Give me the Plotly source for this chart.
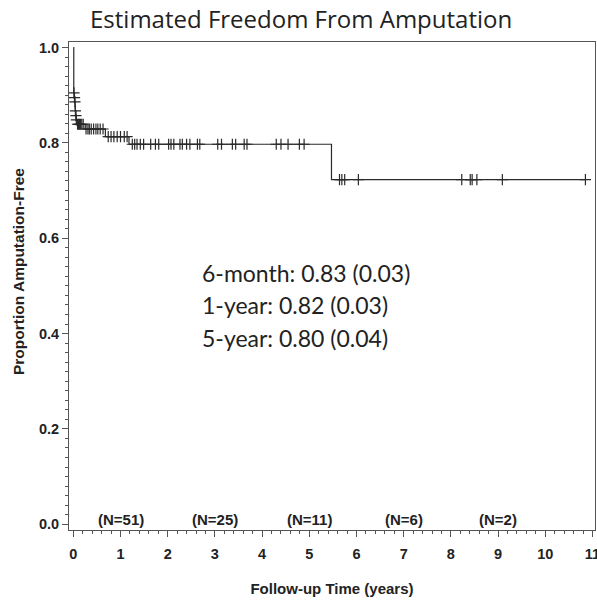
import numpy as np
import plotly.graph_objects as go

# Kaplan-Meier step curve (time in years, survival)
step_times = [0.0, 0.01, 0.02, 0.03, 0.04, 0.05, 0.06, 0.07, 0.25, 0.68, 1.18, 5.47, 10.85]
step_surv = [1.0, 0.905, 0.895, 0.886, 0.867, 0.857, 0.848, 0.839, 0.829, 0.813, 0.797, 0.723, 0.723]

# Censored observation times
censor_times = [0.015, 0.025, 0.035, 0.045, 0.055, 0.065,
                0.09, 0.11, 0.13, 0.15, 0.18, 0.21,
                0.27, 0.31, 0.34, 0.38, 0.43, 0.48, 0.52, 0.57, 0.63,
                0.74, 0.80, 0.86, 0.93, 1.0, 1.08, 1.14,
                1.25, 1.30, 1.35, 1.42, 1.49, 1.64, 1.74, 1.81, 2.02, 2.07, 2.13,
                2.26, 2.31, 2.40, 2.47, 2.63, 2.68, 3.06, 3.14, 3.37, 3.44, 3.62, 3.68,
                4.30, 4.40, 4.55, 4.79, 4.89,
                5.64, 5.69, 5.75, 6.04, 8.23, 8.41, 8.45, 8.55, 9.09, 10.85]

# Numbers at risk
risk_times = [1, 3, 5, 7, 9]
risk_labels = ["(N=51)", "(N=25)", "(N=11)", "(N=6)", "(N=2)"]

summary_lines = ["6-month: 0.83 (0.03)", "1-year: 0.82 (0.03)", "5-year: 0.80 (0.04)"]

x_ticks = list(range(0, 12))
y_ticks = [0.0, 0.2, 0.4, 0.6, 0.8, 1.0]

# survival at each censor time (step lookup)
idx = np.searchsorted(np.array(step_times), np.array(censor_times), side="right") - 1
censor_surv = [step_surv[i] for i in idx]

line_col = "#2a2a2a"
axis_col = "#555"

fig = go.Figure()
fig.add_trace(go.Scatter(x=step_times, y=step_surv, mode="lines",
                         line=dict(color=line_col, width=1.2, shape="hv"),
                         showlegend=False, hoverinfo="skip"))
fig.add_trace(go.Scatter(x=censor_times, y=censor_surv, mode="markers",
                         marker=dict(symbol="cross-thin-open", size=8, color=line_col,
                                     line=dict(color=line_col, width=1.2)),
                         showlegend=False, hoverinfo="skip"))

annotations = []
for t, lab in zip(risk_times, risk_labels):
    annotations.append(dict(x=t, y=0.009, xref="x", yref="y", text="<b>" + lab + "</b>",
                            showarrow=False, xanchor="center", yanchor="middle",
                            font=dict(family="Liberation Sans", size=15, color="#222")))
for i, s in enumerate(summary_lines):
    annotations.append(dict(x=2.68, y=0.527 - i * 0.068, xref="x", yref="y", text=s,
                            showarrow=False, xanchor="left", yanchor="middle",
                            font=dict(family="Lato", size=23, color="#222")))
annotations.append(dict(x=(301 - 69) / 526, y=(600 - 70 - 18.5) / 488, xref="paper", yref="paper",
                        text="Estimated Freedom From Amputation", showarrow=False,
                        xanchor="center", yanchor="middle",
                        font=dict(family="Open Sans", size=24, color="#222")))
annotations.append(dict(x=(18 - 69) / 526, y=(530 - 272) / 488, xref="paper", yref="paper",
                        text="<b>Proportion Amputation-Free</b>", showarrow=False, textangle=-90,
                        xanchor="center", yanchor="middle",
                        font=dict(family="Liberation Sans", size=15.5, color="#222")))

bold = lambda s: "<b>" + s + "</b>"

fig.update_layout(
    width=597, height=600,
    margin=dict(l=69, r=2, t=42, b=70),
    paper_bgcolor="white", plot_bgcolor="white",
    annotations=annotations,
    xaxis=dict(range=[-0.091, 11.053], tickvals=x_ticks,
               ticktext=[bold(str(v)) for v in x_ticks], automargin=False,
               ticklabeloverflow="allow",
               ticks="outside", ticklen=6, tickcolor=axis_col, showgrid=False, zeroline=False,
               showline=True, linecolor=axis_col, linewidth=1, mirror=True,
               minor=dict(dtick=0.2, ticks="outside", ticklen=3, tickcolor=axis_col),
               tickfont=dict(family="Liberation Sans", size=14.5, color="#222"),
               ticklabelstandoff=5,
               title=dict(text=bold("Follow-up Time (years)"), standoff=22,
                          font=dict(family="Liberation Sans", size=15, color="#222"))),
    yaxis=dict(range=[-0.012, 1.0115], tickvals=y_ticks,
               ticktext=[bold(f"{v:.1f}") for v in y_ticks], automargin=False,
               ticklabeloverflow="allow",
               ticks="outside", ticklen=6, tickcolor=axis_col, showgrid=False, zeroline=False,
               showline=True, linecolor=axis_col, linewidth=1, mirror=True,
               minor=dict(dtick=0.02, ticks="outside", ticklen=3, tickcolor=axis_col),
               tickfont=dict(family="Liberation Sans", size=14.5, color="#222")),
)

fig.write_html("out.html", config={"displayModeBar": False},
               post_script="document.body.style.margin='0';")
